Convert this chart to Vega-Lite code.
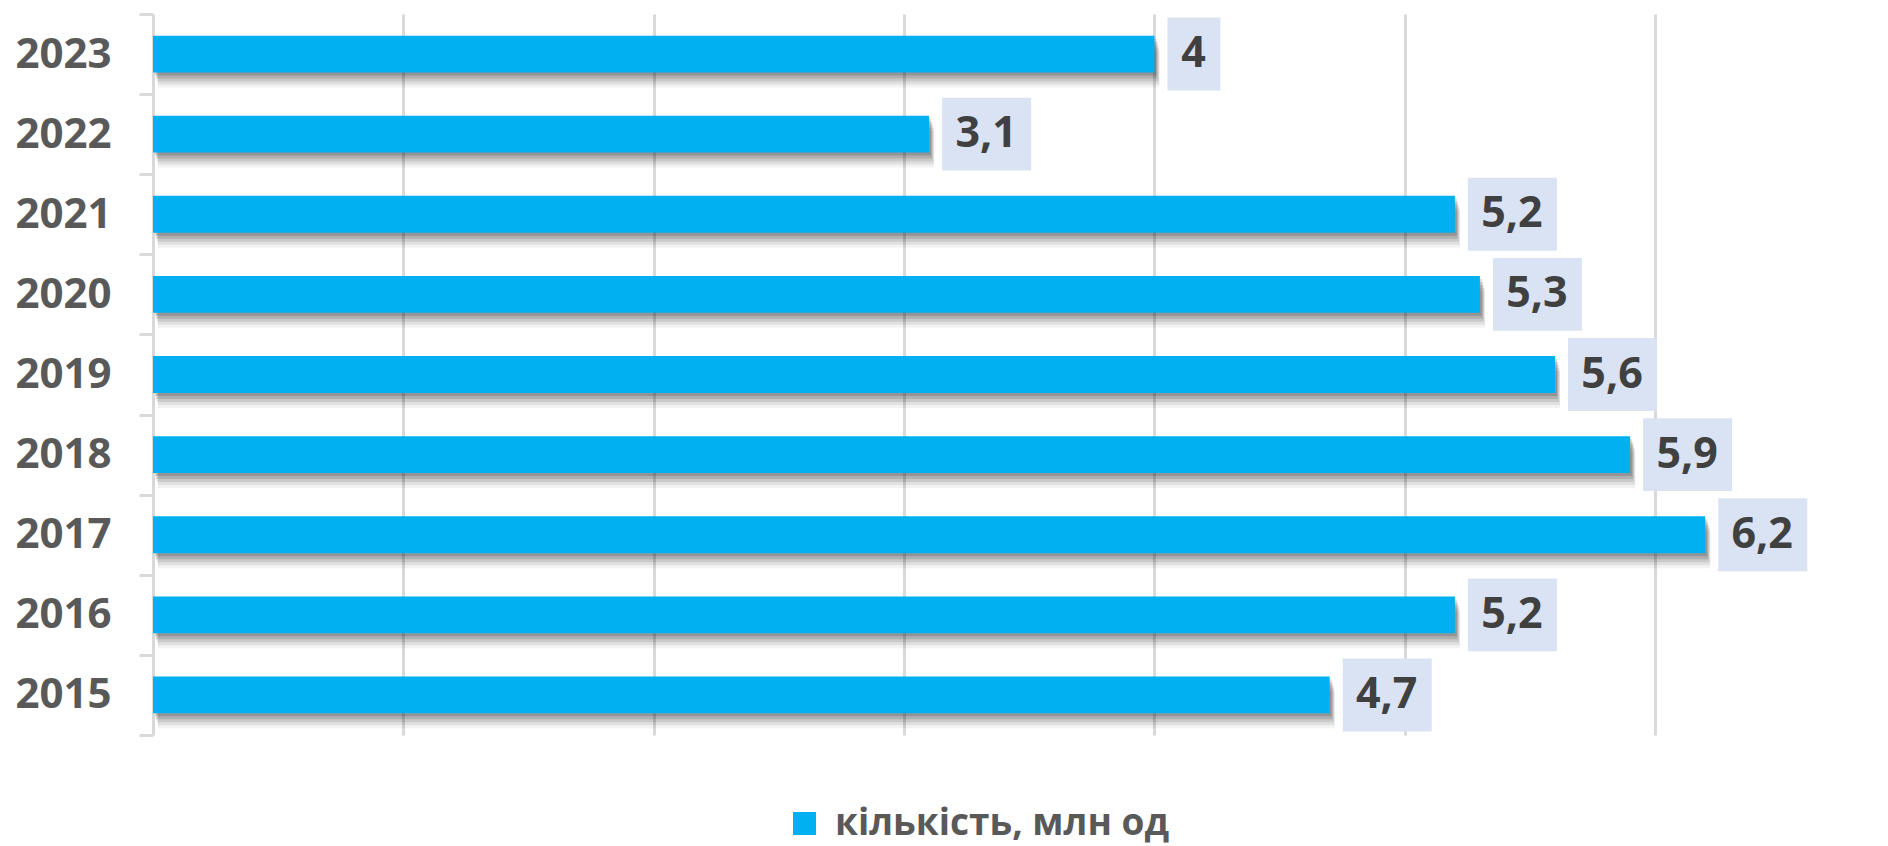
{
  "$schema": "https://vega.github.io/schema/vega-lite/v6.json",
  "autosize": "none",
  "padding": {"left": 153, "top": 14, "right": 0, "bottom": 111},
  "width": 1735,
  "height": 721,
  "background": "white",
  "config": {
    "view": {"stroke": null},
    "font": "Open Sans",
    "locale": {"number": {"decimal": ",", "thousands": " ", "grouping": [3], "currency": ["", ""]}}
  },
  "data": {
    "values": [
      {"year": "2015", "value": 4.7},
      {"year": "2016", "value": 5.2},
      {"year": "2017", "value": 6.2},
      {"year": "2018", "value": 5.9},
      {"year": "2019", "value": 5.6},
      {"year": "2020", "value": 5.3},
      {"year": "2021", "value": 5.2},
      {"year": "2022", "value": 3.1},
      {"year": "2023", "value": 4}
    ]
  },
  "encoding": {
    "y": {
      "field": "year", "type": "nominal", "sort": "descending",
      "scale": {"paddingInner": 0, "paddingOuter": 0},
      "axis": {
        "title": null, "tickBand": "extent", "zindex": 0,
        "domainColor": "#d9d9d9", "domainWidth": 3,
        "tickColor": "#d9d9d9", "tickWidth": 3, "tickSize": 14,
        "labelFont": "Open Sans", "labelFontWeight": "bold", "labelFontSize": 42,
        "labelColor": "#595959", "labelPadding": 28
      }
    },
    "x": {
      "field": "value", "type": "quantitative",
      "scale": {"domain": [0, 6.93], "nice": false, "zero": true},
      "axis": {
        "title": null, "labels": false, "ticks": false, "domain": false,
        "grid": true, "gridColor": "#d9d9d9", "gridWidth": 3,
        "values": [1, 2, 3, 4, 5, 6], "zindex": 0
      }
    }
  },
  "layer": [
    {"mark": {"type": "bar", "color": "#000000", "opacity": 0.14, "height": {"band": 0.46}, "yOffset": 3, "xOffset": 2}},
    {"mark": {"type": "bar", "color": "#000000", "opacity": 0.13, "height": {"band": 0.46}, "yOffset": 6, "xOffset": 3}},
    {"mark": {"type": "bar", "color": "#000000", "opacity": 0.1, "height": {"band": 0.46}, "yOffset": 9, "xOffset": 4}},
    {"mark": {"type": "bar", "color": "#000000", "opacity": 0.07, "height": {"band": 0.46}, "yOffset": 12, "xOffset": 5}},
    {"mark": {"type": "bar", "color": "#000000", "opacity": 0.05, "height": {"band": 0.46}, "yOffset": 15, "xOffset": 5}},
    {
      "mark": {"type": "bar", "height": {"band": 0.46}},
      "encoding": {
        "color": {
          "datum": "кількість, млн од",
          "scale": {"range": ["#00B0F0"]},
          "legend": {
            "title": null, "orient": "none", "legendX": 633, "legendY": 791,
            "symbolType": "square", "symbolSize": 529, "symbolStrokeWidth": 0,
            "labelFont": "Open Sans", "labelFontWeight": "bold", "labelFontSize": 37,
            "labelColor": "#595959", "labelOffset": 12, "labelLimit": 600
          }
        }
      }
    },
    {
      "transform": [{"filter": "datum.value % 1 != 0"}],
      "layer": [
        {
          "mark": {"type": "bar", "color": "#DAE3F3", "height": {"band": 0.91}, "xOffset": 13, "x2Offset": 102},
          "encoding": {"x2": {"field": "value"}}
        },
        {
          "mark": {"type": "text", "align": "center", "baseline": "middle", "dx": 57, "font": "Open Sans", "fontWeight": "bold", "fontSize": 43, "color": "#404040"},
          "encoding": {"text": {"field": "value", "type": "quantitative", "format": ".1~f"}}
        }
      ]
    },
    {
      "transform": [{"filter": "datum.value % 1 == 0"}],
      "layer": [
        {
          "mark": {"type": "bar", "color": "#DAE3F3", "height": {"band": 0.91}, "xOffset": 13, "x2Offset": 66},
          "encoding": {"x2": {"field": "value"}}
        },
        {
          "mark": {"type": "text", "align": "center", "baseline": "middle", "dx": 39, "font": "Open Sans", "fontWeight": "bold", "fontSize": 43, "color": "#404040"},
          "encoding": {"text": {"field": "value", "type": "quantitative", "format": ".1~f"}}
        }
      ]
    }
  ]
}
